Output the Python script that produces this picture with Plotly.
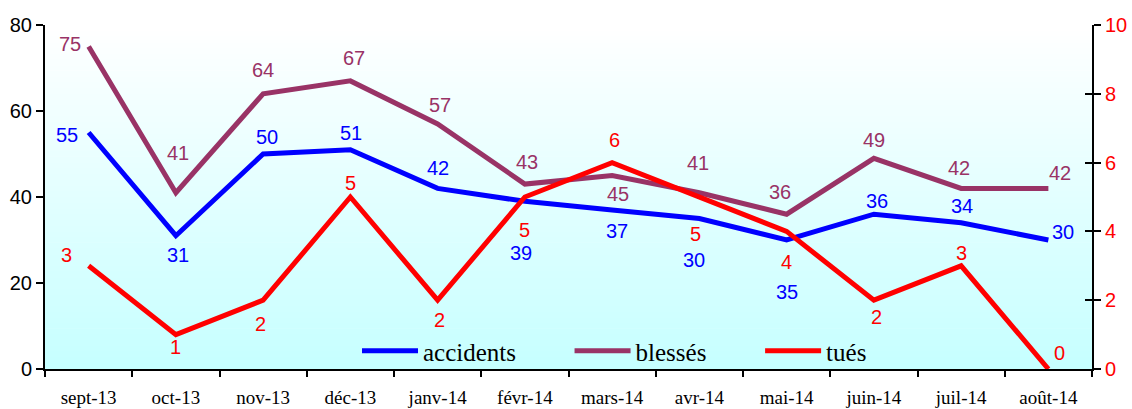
import plotly.graph_objects as go

months = ["sept-13", "oct-13", "nov-13", "déc-13", "janv-14", "févr-14",
          "mars-14", "avr-14", "mai-14", "juin-14", "juil-14", "août-14"]
accidents = [55, 31, 50, 51, 42, 39, 37, 35, 30, 36, 34, 30]
accidents_labels = ["55", "31", "50", "51", "42", "39", "37", "30", "35", "36", "34", "30"]
blesses = [75, 41, 64, 67, 57, 43, 45, 41, 36, 49, 42, 42]
tues = [3, 1, 2, 5, 2, 5, 6, 5, 4, 2, 3, 0]

C_ACC = "#0000FF"
C_BLE = "#993366"
C_TUE = "#FF0000"

SANS = "Liberation Sans"
SERIF = "Liberation Serif"

# label offsets (px) relative to each point: (dx, dy up)
off_acc = [(-22, -2), (2, -19), (4, 17), (1, 17), (0, 20), (-4, -52),
           (5, -21), (-5, -41), (0, -52), (3, 13), (1, 17), (15, 8)]
off_ble = [(-19, 3), (2, 40), (0, 24), (4, 23), (2, 19), (2, 22),
           (6, -18), (-1, 30), (-7, 22), (0, 18), (-2, 20), (12, 15)]
off_tue = [(-22, 11), (0, -12), (-3, -24), (0, 14), (2, -20), (0, -33),
           (2, 23), (-4, -37), (0, -31), (3, -17), (0, 13), (11, 16)]

LABEL_FONT = dict(family=SANS, size=20)

fig = go.Figure()
fig.add_trace(go.Scatter(x=months, y=accidents, name="accidents", mode="lines",
                         line=dict(color=C_ACC, width=5), legend="legend"))
fig.add_trace(go.Scatter(x=months, y=blesses, name="blessés", mode="lines",
                         line=dict(color=C_BLE, width=5), legend="legend2"))
fig.add_trace(go.Scatter(x=months, y=tues, name="tués", mode="lines",
                         line=dict(color=C_TUE, width=5), yaxis="y2", legend="legend3"))
fig.add_trace(go.Scatter(x=[months[0]], y=[None], yaxis="y3", showlegend=False,
                         hoverinfo="skip"))

ann = []
for vals, texts, offs, col, yref in [
    (accidents, accidents_labels, off_acc, C_ACC, "y"),
    (blesses, [str(v) for v in blesses], off_ble, C_BLE, "y"),
    (tues, [str(v) for v in tues], off_tue, C_TUE, "y2"),
]:
    for m, v, t, (dx, dy) in zip(months, vals, texts, offs):
        ann.append(dict(x=m, y=v, xref="x", yref=yref, text=t, showarrow=False,
                        xshift=dx, yshift=dy, font=dict(color=col, **LABEL_FONT)))

# background gradient (white top -> light cyan bottom)
shapes = []
N = 60
for i in range(N):
    f = i / (N - 1)  # 0 bottom -> 1 top
    r = int(round(198 + (255 - 198) * f))
    shapes.append(dict(type="rect", xref="paper", yref="paper",
                       x0=0, x1=1, y0=i / N, y1=(i + 1) / N + 0.002,
                       fillcolor=f"rgb({r},255,255)", line=dict(width=0),
                       layer="below"))

legend_common = dict(orientation="h", yanchor="middle", xanchor="left",
                     bgcolor="rgba(0,0,0,0)", itemwidth=56,
                     font=dict(family=SERIF, size=25, color="black"))

fig.update_layout(
    width=1132, height=409,
    margin=dict(l=45, r=40, t=25, b=40, autoexpand=False),
    paper_bgcolor="white", plot_bgcolor="white",
    shapes=shapes, annotations=ann,
    legend=dict(x=0.298, y=0.052, **legend_common),
    legend2=dict(x=0.501, y=0.052, **legend_common),
    legend3=dict(x=0.683, y=0.052, **legend_common),
    xaxis=dict(type="category", range=[-0.5, 11.5], tickson="boundaries",
               ticks="outside", ticklen=6, tickwidth=2, tickcolor="black",
               showline=True, linecolor="black", linewidth=2, showgrid=False,
               automargin=False,
               tickfont=dict(family=SERIF, size=19, color="black"),
               ticklabelstandoff=10),
    yaxis=dict(range=[0, 80], dtick=20, ticks="outside", ticklen=7, tickwidth=2,
               tickcolor="black", showline=True, linecolor="black", linewidth=2,
               showgrid=False, zeroline=False, automargin=False,
               tickfont=dict(family=SANS, size=20, color="black")),
    yaxis2=dict(range=[0, 10], dtick=2, overlaying="y", side="right", anchor="x",
                ticks="outside", ticklen=7, tickwidth=2, tickcolor="black",
                showline=True, linecolor="black", linewidth=2, showgrid=False,
                zeroline=False, automargin=False,
                tickfont=dict(family=SANS, size=20, color=C_TUE)),
    yaxis3=dict(range=[0, 10], dtick=2, overlaying="y", side="right", anchor="x",
                ticks="inside", ticklen=7, tickwidth=2, tickcolor="black",
                showticklabels=False, showline=False, showgrid=False, zeroline=False,
                automargin=False),
)

# remove the browser's default 8px body margin so the figure fills the window
fig.write_html("out.html",
               config={"displayModeBar": False},
               post_script="document.body.style.margin='0px';"
                           "document.documentElement.style.overflow='hidden';")
